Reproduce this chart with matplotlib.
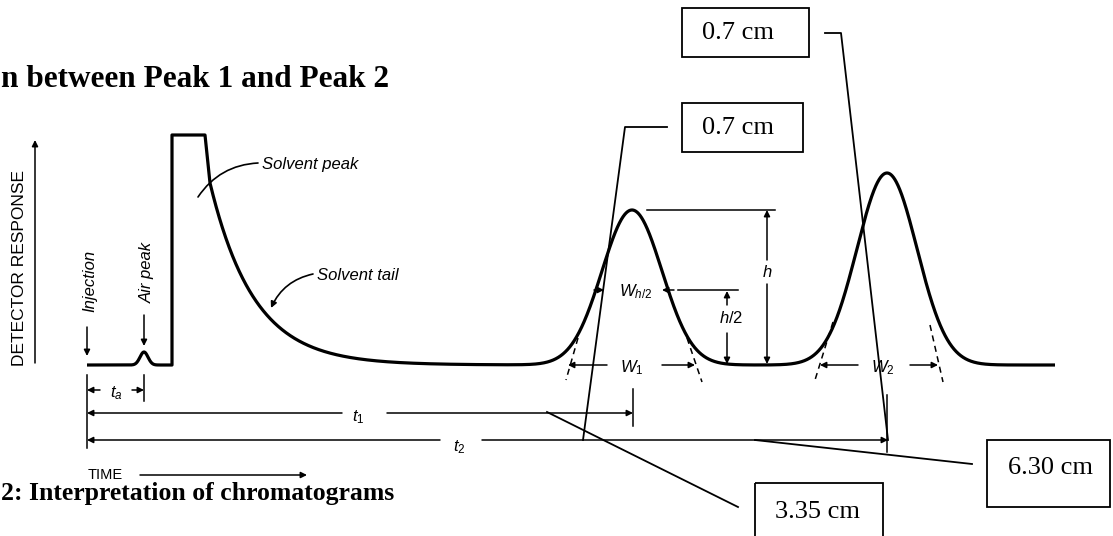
import numpy as np
import matplotlib
matplotlib.use('Agg')
import matplotlib.pyplot as plt
from matplotlib.patches import Rectangle

# chromatogram (x = time in px, heights in px above the baseline)
baseline = 365
x_start, x_end = 87, 1055
peak_names = ['Air peak', 'Peak 1', 'Peak 2']
peak_centres = [144, 632, 887]
peak_heights = [13, 155, 192]
peak_sigmas = [4, 30, 30]
solvent_rise = 172          # injection of solvent plug
solvent_top = 230           # flat (off-scale) top
solvent_top_end = 205
solvent_tail_x = 210
solvent_tail_h = 182
solvent_tail_tau = 44

# measured distances written in the boxes
box_labels = ['0.7 cm', '0.7 cm', '3.35 cm', '6.30 cm']

plt.rcParams['mathtext.fontset'] = 'custom'
plt.rcParams['mathtext.it'] = 'Liberation Sans:italic'
plt.rcParams['mathtext.rm'] = 'Liberation Sans'

fig = plt.figure(figsize=(11.13, 5.36), dpi=100)
ax = fig.add_axes([0, 0, 1, 1])
ax.set_xlim(0, 1113)
ax.set_ylim(536, 0)
ax.axis('off')


def gauss(x, c, h, s):
    return h * np.exp(-0.5 * ((x - c) / s) ** 2)


# before the solvent peak: baseline + air peak
x1 = np.linspace(x_start, solvent_rise, 400)
y1 = gauss(x1, peak_centres[0], peak_heights[0], peak_sigmas[0])
# solvent peak block
x2 = np.array([solvent_rise, solvent_top_end])
y2 = np.array([solvent_top, solvent_top])
# solvent tail + the two peaks
x3 = np.linspace(solvent_tail_x, x_end, 3000)
y3 = solvent_tail_h * np.exp(-(x3 - solvent_tail_x) / solvent_tail_tau)
for c, h, s in zip(peak_centres[1:], peak_heights[1:], peak_sigmas[1:]):
    y3 += gauss(x3, c, h, s)

xs = np.concatenate([x1, x2, x3])
ys = baseline - np.concatenate([y1, y2, y3])
ax.plot(xs, ys, color='black', lw=2.3, solid_joinstyle='round', solid_capstyle='butt')

dim = dict(arrowstyle='-|>', color='black', lw=1.1, mutation_scale=9, shrinkA=0, shrinkB=0)


def arrow(x0, y0, x1_, y1_, **kw):
    p = dict(dim)
    p.update(kw)
    ax.annotate('', xy=(x1_, y1_), xytext=(x0, y0), arrowprops=p)


def line(xv, yv, **kw):
    d = dict(color='black', lw=1.1)
    d.update(kw)
    ax.plot(xv, yv, **d)


lab = dict(fontsize=12, color='black', ha='center', va='center')

# axis arrow and labels
arrow(35, 363, 35, 140)
ax.text(20, 268, 'DETECTOR RESPONSE', rotation=90, family='Liberation Sans', fontsize=12.5, ha='center', va='center')
ax.text(90, 281, 'Injection', rotation=90, family='Liberation Sans', style='italic', fontsize=12, ha='center', va='center')
arrow(87, 327, 87, 356)
ax.text(147, 272, 'Air peak', rotation=90, family='Liberation Sans', style='italic', fontsize=12, ha='center', va='center')
arrow(144, 315, 144, 346)

ax.text(262, 164, 'Solvent peak', family='Liberation Sans', style='italic', fontsize=12, ha='left', va='center')
arrow(258, 163, 198, 197, connectionstyle='arc3,rad=0.25', arrowstyle='-', lw=1.2)
ax.text(317, 275, 'Solvent tail', family='Liberation Sans', style='italic', fontsize=12, ha='left', va='center')
arrow(313, 274, 271, 308, connectionstyle='arc3,rad=0.25', lw=1.2)

# time dimensions
line([87, 87], [375, 448])
line([144, 144], [375, 401])
line([633, 633], [389, 426])
line([887, 887], [395, 452])
arrow(100, 390, 87, 390)
arrow(132, 390, 144, 390)
ax.text(116, 393, '$t_a$', **lab)
arrow(342, 413, 87, 413)
ax.text(358, 417, '$t_1$', **lab)
arrow(387, 413, 633, 413)
arrow(440, 440, 87, 440)
ax.text(459, 447, '$t_2$', **lab)
arrow(482, 440, 888, 440)
ax.text(88, 475, 'TIME', family='Liberation Sans', fontsize=10.5, ha='left', va='center')
arrow(140, 475, 307, 475)

# peak height
line([647, 775], [210, 210])
arrow(767, 260, 767, 210)
arrow(767, 284, 767, 364)
ax.text(767, 272, '$h$', **lab)
line([678, 738], [290, 290])
arrow(727, 305, 727, 291)
arrow(727, 333, 727, 364)
ax.text(731, 318, '$h/2$', **lab)
arrow(594, 290, 604, 290)
arrow(674, 290, 662, 290)
ax.text(636, 292, '$W_{h/2}$', **lab)

# base widths with tangent lines
for (xa, ya, xb, yb) in [(578, 338, 566, 380), (687, 338, 702, 382),
                         (833, 322, 815, 380), (930, 325, 943, 382)]:
    line([xa, xb], [ya, yb], ls=(0, (4, 3)))
arrow(607, 365, 568, 365)
ax.text(632, 368, '$W_1$', **lab)
arrow(662, 365, 695, 365)
arrow(858, 365, 820, 365)
ax.text(883, 368, '$W_2$', **lab)
arrow(910, 365, 938, 365)

# measurement boxes and leaders
boxes = [(682, 8, 127, 49), (682, 103, 121, 49), (755, 483, 128, 70), (987, 440, 123, 67)]
text_pos = [(702, 33), (702, 128), (775, 512), (1008, 468)]
for (bx, by, bw, bh), (tx, ty), s in zip(boxes, text_pos, box_labels):
    ax.add_patch(Rectangle((bx, by), bw, bh, fill=False, ec='black', lw=1.3))
    ax.text(tx, ty, s, family='Liberation Serif', fontsize=19, ha='left', va='center')
line([825, 841, 888], [33, 33, 440], lw=1.3)
line([667, 625, 583], [127, 127, 440], lw=1.3)
line([547, 738], [412, 507], lw=1.3)
line([755, 972], [440, 464], lw=1.3)

# titles
ax.text(1, 87, 'n between Peak 1 and Peak 2', family='Liberation Serif', weight='bold',
        fontsize=22.5, ha='left', va='baseline')
ax.text(1, 500, '2: Interpretation of chromatograms', family='Liberation Serif', weight='bold',
        fontsize=18.5, ha='left', va='baseline')

fig.savefig('out.png', dpi=100)
